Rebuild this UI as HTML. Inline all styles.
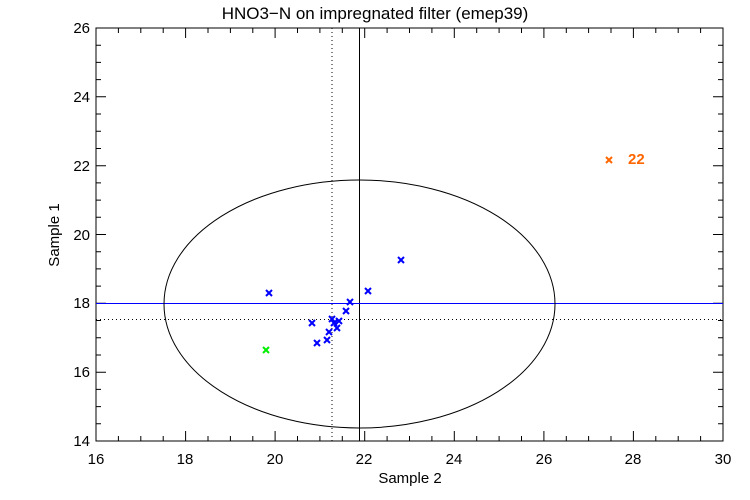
<!DOCTYPE html><html><head><style>body{margin:0;background:#fff}svg{display:block}text{font-family:"Liberation Sans",sans-serif;fill:#000}</style></head><body>
<svg width="750" height="500" viewBox="0 0 750 500">
<text x="375" y="19" font-size="17" text-anchor="middle">HNO3−N on impregnated filter (emep39)</text>
<rect x="96" y="28" width="627" height="413" fill="none" stroke="#000" stroke-width="1"/>
<path fill="none" stroke="#000" d="
M96 441v-10M118.4 441v-5M140.8 441v-5M163.2 441v-5M185.6 441v-10M208 441v-5M230.4 441v-5M252.8 441v-5M275.1 441v-10M297.5 441v-5M319.9 441v-5M342.3 441v-5M364.7 441v-10M387.1 441v-5M409.5 441v-5M431.9 441v-5M454.3 441v-10M476.7 441v-5M499.1 441v-5M521.5 441v-5M543.9 441v-10M566.3 441v-5M588.6 441v-5M611 441v-5M633.4 441v-10M655.8 441v-5M678.2 441v-5M700.6 441v-5
M96 28v10M118.4 28v5M140.8 28v5M163.2 28v5M185.6 28v10M208 28v5M230.4 28v5M252.8 28v5M275.1 28v10M297.5 28v5M319.9 28v5M342.3 28v5M364.7 28v10M387.1 28v5M409.5 28v5M431.9 28v5M454.3 28v10M476.7 28v5M499.1 28v5M521.5 28v5M543.9 28v10M566.3 28v5M588.6 28v5M611 28v5M633.4 28v10M655.8 28v5M678.2 28v5M700.6 28v5
M96 423.8h5M96 406.6h5M96 389.4h5M96 372.2h10M96 355h5M96 337.8h5M96 320.5h5M96 303.3h10M96 286.1h5M96 268.9h5M96 251.7h5M96 234.5h10M96 217.3h5M96 200.1h5M96 182.9h5M96 165.7h10M96 148.5h5M96 131.3h5M96 114h5M96 96.8h10M96 79.6h5M96 62.4h5M96 45.2h5
M723 423.8h-5M723 406.6h-5M723 389.4h-5M723 372.2h-10M723 355h-5M723 337.8h-5M723 320.5h-5M723 303.3h-10M723 286.1h-5M723 268.9h-5M723 251.7h-5M723 234.5h-10M723 217.3h-5M723 200.1h-5M723 182.9h-5M723 165.7h-10M723 148.5h-5M723 131.3h-5M723 114h-5M723 96.8h-10M723 79.6h-5M723 62.4h-5M723 45.2h-5"/>
<g font-size="15" text-anchor="middle">
<text x="96" y="464">16</text><text x="185" y="464">18</text><text x="275" y="464">20</text><text x="364" y="464">22</text><text x="454" y="464">24</text><text x="544" y="464">26</text><text x="633" y="464">28</text><text x="723" y="464">30</text>
</g>
<g font-size="15" text-anchor="end">
<text x="90" y="446">14</text><text x="90" y="377">16</text><text x="90" y="308">18</text><text x="90" y="240">20</text><text x="90" y="171">22</text><text x="90" y="102">24</text><text x="90" y="33">26</text>
</g>
<text x="410" y="483" font-size="15" text-anchor="middle">Sample 2</text>
<text transform="translate(59,235) rotate(-90)" font-size="15" text-anchor="middle">Sample 1</text>
<line x1="332" y1="28" x2="332" y2="441" stroke="#000" stroke-dasharray="1,3"/>
<line x1="96" y1="319.5" x2="723" y2="319.5" stroke="#000" stroke-dasharray="1,3"/>
<line x1="359.5" y1="28" x2="359.5" y2="441" stroke="#000"/>
<line x1="96" y1="303.5" x2="723" y2="303.5" style="stroke:#0000ff"/>
<ellipse cx="359.5" cy="304" rx="195.5" ry="124" fill="none" stroke="#000"/>
<g stroke-width="2" fill="none">
<path style="stroke:#0000ff" d="M266 290l6 6M272 290l-6 6M398 257l6 6M404 257l-6 6M365 288l6 6M371 288l-6 6M347 299l6 6M353 299l-6 6M343 308l6 6M349 308l-6 6M309 320l6 6M315 320l-6 6M329 316l6 6M335 316l-6 6M336 318l6 6M342 318l-6 6M331 320l6 6M337 320l-6 6M334 325l6 6M340 325l-6 6M326 329l6 6M332 329l-6 6M324 337l6 6M330 337l-6 6M314 340l6 6M320 340l-6 6"/>
<path style="stroke:#00ee00" d="M263 347l6 6M269 347l-6 6"/>
<path style="stroke:#ff6600" d="M606 157l6 6M612 157l-6 6"/>
</g>
<text x="628" y="164" font-size="15" font-weight="bold" style="fill:#ff6600">22</text>
</svg></body></html>
